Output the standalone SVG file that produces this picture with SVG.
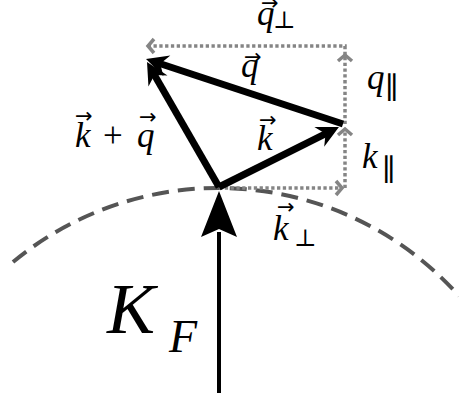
<svg xmlns="http://www.w3.org/2000/svg" width="459" height="401" viewBox="0 0 459 401">
<style>
.lbl{font-family:"Liberation Serif","DejaVu Serif",serif;font-style:italic;font-size:35px;fill:#000}
.sub{font-size:24px;font-style:normal}
.par{font-size:30px;font-style:normal}
.up{font-style:normal}
.arr{font-family:"DejaVu Sans",sans-serif;font-size:21px;font-style:normal}
.vec{fill:none;stroke:#000;stroke-width:7;stroke-linecap:butt}
.dot{fill:none;stroke:#858585;stroke-width:3.5;stroke-dasharray:3.3 2.5}
.fs{fill:none;stroke:#555;stroke-width:4;stroke-dasharray:17 9}
</style>
<defs>
<marker id="bh" viewBox="-16 -13 26 26" refX="0" refY="0" markerWidth="26" markerHeight="26" markerUnits="userSpaceOnUse" orient="auto">
<path d="M8,0 L-14,-11 L-7,0 L-14,11 Z" fill="#000"/>
</marker>
<marker id="gh" viewBox="-10 -10 20 20" refX="0" refY="0" markerWidth="20" markerHeight="20" markerUnits="userSpaceOnUse" orient="auto">
<path d="M-6,-7 L0,0 L-6,7" fill="none" stroke="#858585" stroke-width="3.5"/>
</marker>
</defs>
<g id="fermi-surface">
<path class="fs" d="M13,262 A322,322 0 0 1 459,296"/>
</g>
<g id="connectors">
<path class="dot" d="M345,55 L345,46 L148,46" marker-end="url(#gh)"/>
<path class="dot" d="M345,124 L345,55" marker-end="url(#gh)"/>
<path class="dot" d="M345,188 L345,129" marker-end="url(#gh)"/>
<path class="dot" d="M219,188 L342,188" marker-end="url(#gh)"/>
<path class="vec" d="M219,187 L331.8,130.6" marker-end="url(#bh)"/>
<path class="vec" d="M343,124 L153.6,61.5" marker-end="url(#bh)"/>
<path class="vec" d="M219,187 L151,68.9" marker-end="url(#bh)"/>
<path d="M219,393 L219,232" fill="none" stroke="#000" stroke-width="4"/>
<path d="M219,191 L237,237 L219,229 L201,237 Z" fill="#000"/>
</g>
<g id="label-q-perp"><text class="lbl" x="257" y="25">q<tspan class="arr" x="261" y="10">→</tspan><tspan class="sub" x="273" y="28">⊥</tspan></text></g>
<g id="label-q"><text class="lbl" x="241" y="77">q<tspan class="arr" x="244" y="64">→</tspan></text></g>
<g id="label-k-plus-q"><text class="lbl" x="75" y="147">k<tspan class="arr" x="75" y="123">→</tspan><tspan class="up" x="103" y="147">+</tspan><tspan x="137" y="147">q</tspan><tspan class="arr" x="139" y="124">→</tspan></text></g>
<g id="label-k"><text class="lbl" x="257" y="150">k<tspan class="arr" x="259" y="127">→</tspan></text></g>
<g id="label-q-par"><text class="lbl" x="367" y="89">q<tspan class="par" x="385" y="98">∥</tspan></text></g>
<g id="label-k-par"><text class="lbl" x="362" y="168">k<tspan class="par" x="382" y="180">∥</tspan></text></g>
<g id="label-k-perp"><text class="lbl" x="273" y="240">k<tspan class="arr" x="277" y="214">→</tspan><tspan class="sub" x="294" y="246">⊥</tspan></text></g>
<g id="label-kf"><text class="lbl" x="107" y="333" style="font-size:72px">K<tspan x="169" y="352" style="font-size:46px">F</tspan></text></g>
</svg>
